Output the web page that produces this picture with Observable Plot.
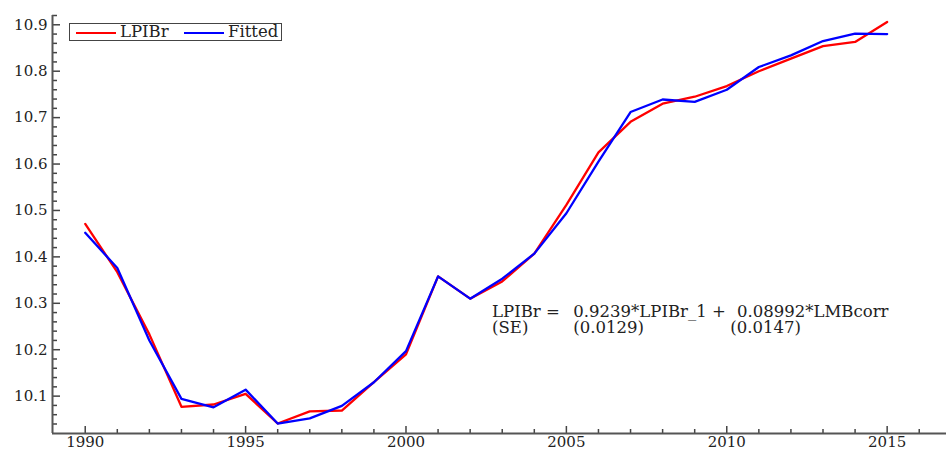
<!DOCTYPE html>
<html>
<head>
<meta charset="utf-8">
<script src="https://cdn.jsdelivr.net/npm/d3@7"></script>
<script src="https://cdn.jsdelivr.net/npm/@observablehq/plot@0.6"></script>
<style>
  html, body { margin: 0; padding: 0; background: #fff; }
  #wrap { position: relative; width: 946px; height: 449px; }
  #legend { position: absolute; left: 69px; top: 23px; width: 211px; height: 16px;
    border: 1.5px solid #444; background: #fff; font-family: "DejaVu Serif", serif; font-size: 16.5px; color: #222; }
  #legend .sw { position: absolute; top: 8px; width: 40px; height: 0; border-top: 2px solid; }
  #legend .lb { position: absolute; top: -2px; line-height: 20px; white-space: nowrap; }
</style>
</head>
<body>
<div id="wrap"></div>
<script>
const years = [1990,1991,1992,1993,1994,1995,1996,1997,1998,1999,2000,2001,2002,2003,2004,2005,2006,2007,2008,2009,2010,2011,2012,2013,2014,2015];
const lpibr = [10.471,10.367,10.233,10.077,10.082,10.105,10.041,10.067,10.069,10.130,10.190,10.358,10.310,10.347,10.407,10.512,10.625,10.691,10.730,10.745,10.768,10.800,10.827,10.854,10.863,10.906];
const fitted = [10.452,10.376,10.220,10.094,10.076,10.114,10.041,10.052,10.079,10.130,10.197,10.358,10.310,10.353,10.407,10.494,10.605,10.712,10.739,10.734,10.760,10.809,10.834,10.865,10.881,10.880];
const seriesNames = ["LPIBr", "Fitted"];
const yMajor = [10.1,10.2,10.3,10.4,10.5,10.6,10.7,10.8,10.9];
const yMinor = [10.04,10.06,10.08,10.12,10.14,10.16,10.18,10.22,10.24,10.26,10.28,10.32,10.34,10.36,10.38,10.42,10.44,10.46,10.48,10.52,10.54,10.56,10.58,10.62,10.64,10.66,10.68,10.72,10.74,10.76,10.78,10.82,10.84,10.86,10.88,10.92];
const xMajor = [1990,1995,2000,2005,2010,2015];
const xMinor = [1991,1992,1993,1994,1996,1997,1998,1999,2001,2002,2003,2004,2006,2007,2008,2009,2011,2012,2013,2014,2016];
const eqRow1 = ["LPIBr =", "0.9239*LPIBr_1 +", "0.08992*LMBcorr"];
const eqRow2 = ["(SE)", "(0.0129)", "(0.0147)"];

const xDomain = [1988.98, 2016.85];
const yDomain = [10.0195, 10.92];
const W = 946, H = 449, mL = 52, mR = 0, mT = 15, mB = 16;
const innerW = W - mL - mR, innerH = H - mT - mB;

const rows = [];
years.forEach((yr, i) => {
  rows.push({year: yr, value: lpibr[i], series: seriesNames[0]});
});
years.forEach((yr, i) => {
  rows.push({year: yr, value: fitted[i], series: seriesNames[1]});
});

const font = "DejaVu Serif";
const axisColor = "#555";

const eqText = [
  {x: 2002.685, y: 10.281, t: eqRow1[0]},
  {x: 2005.218, y: 10.281, t: eqRow1[1]},
  {x: 2010.32, y: 10.281, t: eqRow1[2]},
  {x: 2002.685, y: 10.247, t: eqRow2[0]},
  {x: 2005.218, y: 10.247, t: eqRow2[1]},
  {x: 2010.11, y: 10.247, t: eqRow2[2]}
];

const chart = Plot.plot({
  width: W, height: H,
  marginLeft: mL, marginRight: mR, marginTop: mT, marginBottom: mB,
  style: {fontFamily: font, fontSize: "15px", color: "#222", background: "#fff", overflow: "visible"},
  x: {domain: xDomain},
  y: {domain: yDomain},
  color: {domain: seriesNames, range: ["#ff0000", "#0000ff"]},
  marks: [
    Plot.axisY({ticks: yMajor, tickSize: 0, tickPadding: 5, tickFormat: d => d.toFixed(1), fontSize: 15, fontFamily: font, fill: "#222", label: null}),
    Plot.axisX({ticks: xMajor, tickSize: 0, tickPadding: 3, tickFormat: d => String(d), fontSize: 15, fontFamily: font, fill: "#222", label: null}),
    Plot.tickY(yMajor, {y: d => d, insetRight: innerW - 8, stroke: "#444", strokeWidth: 1.5}),
    Plot.tickY(yMinor, {y: d => d, insetRight: innerW - 5, stroke: "#444", strokeWidth: 1.5}),
    Plot.tickX(xMajor, {x: d => d, insetTop: innerH - 7, stroke: "#444", strokeWidth: 1.5}),
    Plot.tickX(xMinor, {x: d => d, insetTop: innerH - 4, stroke: "#444", strokeWidth: 1.5}),
    Plot.ruleX([xDomain[0]], {stroke: axisColor, strokeWidth: 2}),
    Plot.ruleY([yDomain[0]], {stroke: axisColor, strokeWidth: 2}),
    Plot.line(rows.filter(d => d.series === seriesNames[0]), {x: "year", y: "value", stroke: "series", strokeWidth: 2.3}),
    Plot.line(rows.filter(d => d.series === seriesNames[1]), {x: "year", y: "value", stroke: "series", strokeWidth: 2.3}),
    Plot.text(eqText, {x: "x", y: "y", text: "t", textAnchor: "start", lineAnchor: "middle", fontSize: 16.5, fontFamily: font, fill: "#222"})
  ]
});

const wrap = document.getElementById("wrap");
wrap.appendChild(chart);

const legend = document.createElement("div");
legend.id = "legend";
legend.innerHTML =
  `<span class="sw" style="left:6px;border-color:#ff0000"></span>` +
  `<span class="lb" style="left:50px">${seriesNames[0]}</span>` +
  `<span class="sw" style="left:114px;border-color:#0000ff"></span>` +
  `<span class="lb" style="left:158px">${seriesNames[1]}</span>`;
wrap.appendChild(legend);
</script>
</body>
</html>
